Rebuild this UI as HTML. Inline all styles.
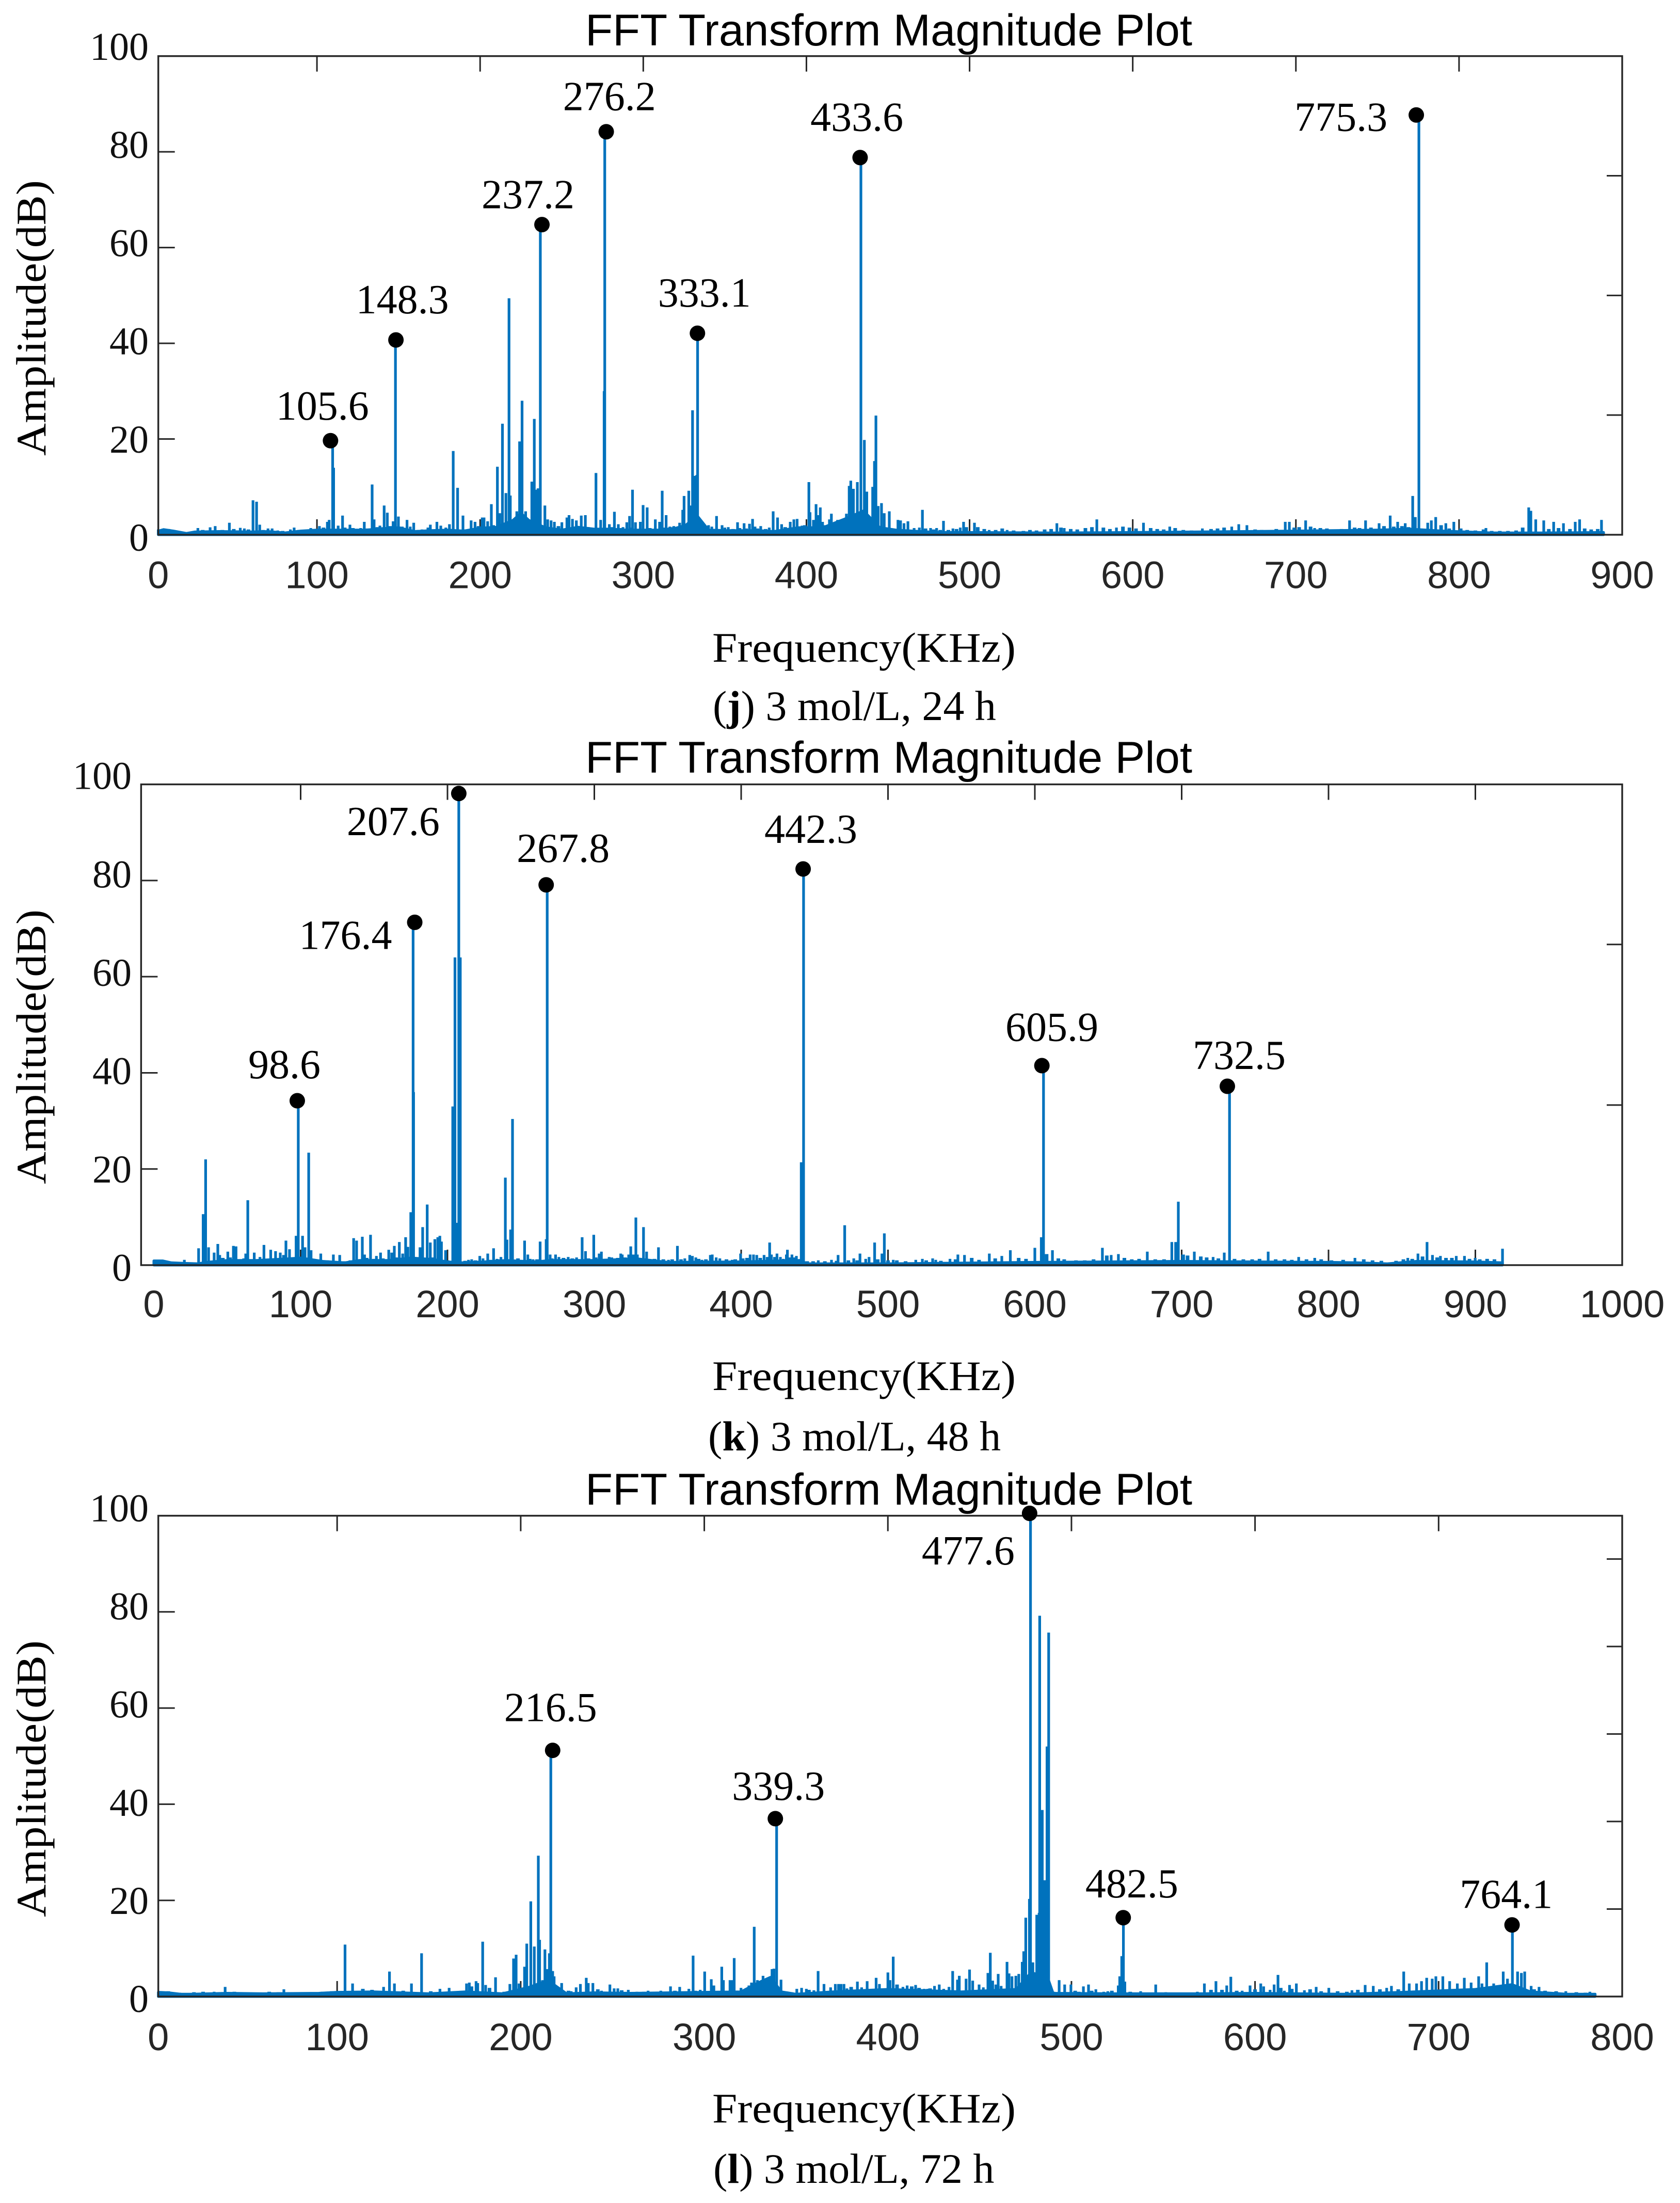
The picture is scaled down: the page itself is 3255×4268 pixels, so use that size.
<!DOCTYPE html>
<html lang="en">
<head>
<meta charset="utf-8">
<title>FFT Transform Magnitude Plots</title>
<style>
html,body{margin:0;padding:0;background:#fff;}
svg{display:block;}
.serif{font-family:"Liberation Serif",serif;fill:#000;}
.sans{font-family:"Liberation Sans",sans-serif;}
.title{font-size:86px;fill:#000;}
.axis-title{font-size:82px;}
.caption{font-size:82px;}
</style>
</head>
<body>
<svg id="figure" xmlns="http://www.w3.org/2000/svg" width="3255" height="4268" viewBox="0 0 3255 4268">
<rect x="0" y="0" width="3255" height="4268" fill="#fff"/>

<g id="panel-j"></g>
<text class="sans title" x="1722" y="88" text-anchor="middle" textLength="1176" lengthAdjust="spacingAndGlyphs">FFT Transform Magnitude Plot</text>
<text class="serif" transform="translate(88,616) rotate(-90)" text-anchor="middle" font-size="82" textLength="534" lengthAdjust="spacingAndGlyphs">Amplitude(dB)</text>
<text class="serif axis-title" x="1674" y="1282" text-anchor="middle" textLength="588" lengthAdjust="spacingAndGlyphs">Frequency(KHz)</text>
<text class="serif caption" x="1381" y="1395">(<tspan font-weight="bold">j</tspan>) 3 mol/L, 24 h</text>

<g id="panel-k"></g>
<text class="sans title" x="1722" y="1497" text-anchor="middle" textLength="1176" lengthAdjust="spacingAndGlyphs">FFT Transform Magnitude Plot</text>
<text class="serif" transform="translate(88,2028) rotate(-90)" text-anchor="middle" font-size="82" textLength="532" lengthAdjust="spacingAndGlyphs">Amplitude(dB)</text>
<text class="serif axis-title" x="1674" y="2693" text-anchor="middle" textLength="588" lengthAdjust="spacingAndGlyphs">Frequency(KHz)</text>
<text class="serif caption" x="1372" y="2810">(<tspan font-weight="bold">k</tspan>) 3 mol/L, 48 h</text>

<g id="panel-l"></g>
<text class="sans title" x="1722" y="2915" text-anchor="middle" textLength="1176" lengthAdjust="spacingAndGlyphs">FFT Transform Magnitude Plot</text>
<text class="serif" transform="translate(88,3446) rotate(-90)" text-anchor="middle" font-size="82" textLength="536" lengthAdjust="spacingAndGlyphs">Amplitude(dB)</text>
<text class="serif axis-title" x="1674" y="4112" text-anchor="middle" textLength="588" lengthAdjust="spacingAndGlyphs">Frequency(KHz)</text>
<text class="serif caption" x="1382" y="4229">(<tspan font-weight="bold">l</tspan>) 3 mol/L, 72 h</text>
</svg>

<script>
// ---------- shared tick values ----------
const yTickValues = [0, 20, 40, 60, 80, 100];
const yTickLabels = ["0", "20", "40", "60", "80", "100"];

// ---------- panel j ----------
const jXTicks = [0, 100, 200, 300, 400, 500, 600, 700, 800, 900];
const jXTickLabels = ["0", "100", "200", "300", "400", "500", "600", "700", "800", "900"];
const jRightTicks = [25, 50, 75];
const jFreq = [
27,34.5,37.6,46.3,53,55.5,60.8,63,64.9,70,72.5,76,83.7,86,93.4,96.2,101.5,106.4,107.5,109.6,
110.2,113,115.7,120.2,124,126.8,129,133.8,135,138.6,141.2,143.1,146.7,148.1,149.9,155.2,157.2,159.3,164.4,168,
169.5,173.5,175.9,179,181.2,183.5,186.2,189.5,194.5,196.9,201.3,202.4,204.6,206.9,210.6,212,213.7,215.8,217.7,218.5,
222.5,224.2,225.7,227.9,231.7,233.2,234.2,235.5,236.9,239.7,241.4,243.5,245.5,250.1,253.2,254.5,256.6,259,262,264.5,
268.2,271,273.9,276,276.4,279.2,282.3,284.7,287.6,289.9,291.6,293.4,295.2,298.2,299.9,302.4,305,307.4,310,311.6,
314,316.3,318.7,322.3,324.2,325,327.9,329.2,330.2,331.5,332.8,333.3,335.2,337.6,340,342,344.9,348.3,350,352.1,
357.8,361.8,365.1,367,368.5,372,377.2,379.6,382.3,384.8,390.1,392.3,394.3,397.3,401.5,402.2,404.3,405.9,407,408.5,
409.9,412.7,414.1,415.3,419.1,421.1,422.7,424.5,426.2,427.2,428.8,431.2,433.4,435.5,437,440.6,441.7,442.6,444,446,
447.7,450.8,456.1,457.7,459.8,462.2,466,469.2,471.1,476.1,479.8,484,489.8,494.3,496.3,503,512,523,553.5,558,
578,590,606.6,622.7,642.7,660.7,665,670,693.5,696,706,711.5,732.9,742.7,751,757.8,762.4,767,771.6,773.2,
775.4,780.8,783,785.7,791.9,796.8,816.5,842.7,844,847,851.9,858,864,871.2,873.9,887.3
];
const jAmp = [
1.4,1.55,1.8,2.5,1.45,1.3,7.2,6.9,2.1,1.3,1.3,0.9,1.1,1.5,1,1.4,1.8,2.7,3.1,19.6,
14,1.9,4,2.1,0.9,1.4,2.7,10.5,3.2,1.9,6.1,4.6,2.8,40.7,3.8,3.1,1.7,2.5,1.1,1.5,
2.1,2.7,1.9,1.5,2.2,17.5,9.8,4,3,2.7,3.6,3.6,2.8,6.4,14.2,4.5,23.2,8.7,49.4,8.2,
4.9,19.5,28,4.9,11.1,24.2,9.4,9.7,64.8,6.1,3.2,3,2.7,2.6,3.6,4.1,3.3,3,4,4.1,
1.5,12.9,3.1,30,84.2,2.2,4.8,2.2,1.6,2.6,3.9,9.4,2.6,2.7,6.2,5.7,1.1,3.2,2.7,9.2,
4.1,1.7,1.8,2.5,5.2,8.1,9.2,6.1,26,12.3,12.5,42.1,2.1,1.4,2,1.7,3.9,2,1.5,1.6,
2.6,2.4,2.3,3.3,1.7,1.8,1.5,4.9,3.6,2.2,2.7,3.2,3.3,1.9,11,4.7,3.1,6.4,4.1,5.7,
2.7,1.4,3.2,4.4,3.1,2.6,2.8,4.4,10.2,11.3,9.6,11,78.8,19.8,9,10,15.4,24.9,6,6.6,
4.5,4.9,3.1,3,2.4,2.8,1.4,1.5,5.2,1.4,1.4,2.9,1.3,1.5,2.7,2.5,1,1,2.4,1.4,
3.2,1.5,2.5,1.7,1.3,1.7,2.2,2,2.7,2.7,3,1.4,3,3,2.4,4,2.7,2.4,8.1,3.7,
87.7,2.5,3,3.7,2.4,2.7,1.4,5.7,5,3.2,3,2.7,2.4,2.7,3.2,3.1
];
const jSmallFreq = [
3,9,16,30,42,49,58,67,79,89,99,104,117,122,131,137,145,152,162,171,
177,191,199,208,248,266,270,281,286,292,304,313,320,346,355,359,363,370,375,387,
399,411,417,473,478,482,487,492,498,505,509,516,520,527,533,537,541,546,550,556,
562,566,571,575,582,586,594,598,602,611,615,619,626,631,636,648,652,656,675,679,
684,688,699,702,709,715,719,723,728,736,739,746,754,760,765,769,789,794,801,805,
810,815,820,825,830,835,839,855,861,868,877,881,885
];
const jSmallAmp = [
1.1,1.2,0.6,1,1,1.2,1.1,1,0.8,1,1.2,1.5,1.5,1.4,1.3,1.6,1.8,1.7,1,1.1,
1.2,1.1,1.8,2,1.8,1.6,1.3,1.6,1.4,1.5,1.4,1.5,1.6,1.2,1.2,1.4,1.3,1.3,1.2,1.6,
2,2,2.4,1.3,1.1,1,1,1.2,1.6,1.6,1.2,1,1.3,0.9,0.8,1,0.9,1.1,1.2,1.5,
1.2,1.1,1.4,1.6,1.5,1.2,1.7,1.5,1.3,1.4,1.2,1.1,1.4,1,0.9,1.2,1.3,1.5,1.1,1,
0.9,1.2,1.5,1.6,1.7,1.4,1.3,1.1,1.2,1.5,1.4,1.5,1.8,1.7,1.8,1.6,2,1.3,1.3,1,
0.9,1.1,0.8,0.8,0.8,0.9,1.5,1.2,1.4,1.2,1.3,1.1,1.2
];
const jFloorFreq = [0,6,12,20,25,40,60,70,80,90,100,110,120,130,140,150,160,170,180,190,200,210,220,225,230,240,250,260,270,280,290,300,310,320,326,333,340,350,370,380,395,410,425,435,445,455,480,500,550,600,700,750,770,790,820,850,888.6];
const jFloorAmp = [0.8,1.1,0.8,0.3,0.6,0.7,0.6,0.7,0.4,0.8,1,1,1,1,1.3,1.5,0.7,0.9,1,0.8,1.4,1.6,3,4.5,3,1.5,1,1.6,1.2,1.2,1,1,1,1.4,2,4,1,0.9,0.9,0.7,1.5,1.5,3.5,5,1.5,1,0.5,0.5,0.4,0.5,0.8,1,1.2,0.8,0.4,0.4,0.5];
const jPeakFreq = [108.3,148.4,237.9,277.3,333.2,432.9,773.8];
const jPeakAmp = [19.65,40.7,64.8,84.2,42.1,78.8,87.7];
const jPeakLabels = ["105.6","148.3","237.2","276.2","333.1","433.6","775.3"];

// ---------- panel k ----------
const kXTicks = [0, 100, 200, 300, 400, 500, 600, 700, 800, 900, 1000];
const kXTickLabels = ["0", "100", "200", "300", "400", "500", "600", "700", "800", "900", "1000"];
const kRightTicks = [33.3, 66.7];
const kFreq = [
20.8,30.5,33.6,35.3,37.3,41.1,43.6,44.9,50.4,52.2,54.2,56,58.5,61.2,62.6,64,68.4,72.3,75,79.6,
82.9,86.1,88.3,90,92.4,96.9,98.4,101.3,103,105.5,107.1,113.7,122.3,126.6,133.6,136.1,138.1,142,143.5,147.6,
151.6,154.4,160,162,163.8,167.2,169.5,171.5,173,175,176.6,176.9,181.3,183.1,186.2,188.3,191.4,193.4,194.8,195.9,
198.7,203.6,205.1,206.3,207.7,208.7,214.3,216.5,222,224.2,227.4,231.4,233.7,236.4,239.4,240.5,243,244.3,252.5,254.7,
258.3,263.1,267.2,267.9,269.9,273.6,275.9,282.2,287.9,291.7,294,299.6,303.3,304.8,307.1,310.1,311.9,313.5,318,319,
323.4,324.8,326.5,328.3,329.3,333.5,335.6,338.8,343.7,350.5,356.6,361.6,365,366.8,369.1,373.3,379,380.3,383,385.5,
393.9,399.6,401.4,406.1,408.4,410.6,415.6,419.4,420.6,424.4,426.7,428.7,430.8,431.5,434.6,437.6,440.9,442.5,452.5,461.5,
466,470.5,476.7,480.9,484.8,487.1,490.9,495.9,497.5,503.6,518.9,523.4,530.4,532.5,542.2,547.6,552.1,569,577.5,583.3,
600,604.4,605.9,612,646,652,656.9,676.6,693.3,695.9,697.7,708.6,721.4,729,732.6,758.9,779.7,790.6,818,854,
860.9,867.1,870.8,876.2,887,892.6,899.9,918.5
];
const kAmp = [
1.1,3.5,10.6,22,3.7,2.6,4.4,2.1,2.8,1.6,4,3.9,0.8,1.4,2.4,13.5,2.6,1.7,4.2,3.2,
2.9,2.6,2.1,5.1,3.3,6.1,34,6.1,3.7,23.4,3.1,2.4,2.2,2.1,1,5.6,5.1,5.9,2.2,6.3,
1.9,2.6,3.2,2.6,4,4.8,2.4,5.8,3.8,11,71.3,36,3.7,7.9,12.6,4.7,5.4,5.8,6.1,4.9,
3.1,33,64,8.8,98.1,64,1.1,1.2,1.9,1.4,2.4,3.5,1.3,1.7,18.2,5.3,7.4,30.4,5.1,2.2,
1.2,4.9,5.4,79.1,2.2,2.2,1.7,1.7,1.6,5.8,2.9,6.3,2.4,2.8,1.1,1.7,1.6,1.4,2.4,2.2,
2.2,3.9,2.2,9.9,2.2,7.9,2.8,1.1,3.7,1.1,4,1.4,2.1,1.9,1.6,1.1,2.1,2.2,1.6,1.4,
1.1,2.4,1.4,2.2,2.2,2.1,2.1,4.7,2.2,2.4,1.7,1.3,2.2,3.2,2.2,1.9,21.4,82.4,1,1.1,
2.1,8.3,1.4,2.4,1.3,1.7,4.7,2.4,6.6,1.1,1.1,1.3,1.4,1.1,1.3,2.2,2.1,2.4,1.9,3.1,
3.6,5.8,41.5,3.1,3.6,2.1,2.3,2.8,4.8,4.8,13.2,2.8,1.7,2.6,37.2,2.8,1.7,1.5,1.5,1.5,
2.4,4.8,2.1,1.9,1.9,1.9,1.5,3.4
];
const kSmallFreq = [
3,9,15,25,47,60,66,70,77,84,94,110,118,130,145,150,156,165,180,190,
200,212,219,229,235,248,256,261,271,279,285,296,301,316,321,341,347,353,359,371,
376,390,396,404,413,418,423,433,436,445,449,457,465,473,479,493,500,506,512,526,
536,546,557,562,573,589,594,608,616,620,628,634,640,649,661,666,671,682,688,701,
704,713,717,725,736,742,748,753,764,770,775,785,795,802,810,824,830,836,846,851,
857,864,874,880,884,896,903,908,913
];
const kSmallAmp = [
1,0.8,0.6,0.4,1.5,1.2,1.1,1.2,1.3,1.4,1.6,1.2,1,0.8,1.5,1.3,1.4,1.6,1.6,1.6,
1,0.9,1,1.1,1.2,1.4,1.3,1.2,1.4,1.5,1.4,1.4,1.6,1.5,1.6,1.3,1.2,1.2,1.2,1.3,
1.2,1.2,1.2,1.5,1.5,1.7,1.7,1.6,1.6,0.8,0.8,0.8,0.9,1,1,1.2,1,1,0.8,1,
0.9,1.2,1.5,1.1,1.4,1.5,1.3,2.3,1.4,1.2,1,1,1.2,2,1.5,1.2,1.3,1.2,1.2,2.2,
2,1.8,1.6,1.4,1.3,1.2,1.2,1.3,1.2,1.2,1.1,1.2,1.2,1,1.1,1.2,1,0.9,0.9,1.2,
1.3,1.8,1.6,1.5,1.5,1.3,1.2,1.3,1.2
];
const kFloorFreq = [0,6,12,20,30,36,50,70,90,100,115,130,140,160,175,190,200,210,225,240,260,270,300,330,350,400,440,445,500,600,650,700,750,800,820,840,860,900,918.5];
const kFloorAmp = [0.9,0.9,0.5,0.4,0.3,0.6,1,1,1.3,1.5,0.8,0.5,1,1,1.5,1.2,0.7,0.5,0.7,1,0.7,1,1,1.3,0.6,0.7,1,0.3,0.3,0.6,0.7,0.8,0.7,0.6,0.5,0.3,0.8,0.7,0.5];
const kPeakFreq = [97.7,177.7,207.7,267.2,442.2,604.8,731.1];
const kPeakAmp = [34.2,71.3,98.1,79.1,82.4,41.5,37.2];
const kPeakLabels = ["98.6","176.4","207.6","267.8","442.3","605.9","732.5"];

// ---------- panel l ----------
const lXTicks = [0, 100, 200, 300, 400, 500, 600, 700, 800];
const lXTickLabels = ["0", "100", "200", "300", "400", "500", "600", "700", "800"];
const lRightTicks = [18.2, 36.4, 54.6, 72.8, 91];
const lFreq = [
33,39,71,104.3,108.4,125.3,128.5,131.2,140.5,146,156,161,170.5,172,173.4,175.7,176.6,179.3,180.9,186.3,
194.1,196.1,197.5,199.1,202.1,203.3,205.5,207.4,209.6,210.3,211.9,213.2,214.2,215.6,216.4,217.4,218.2,222.3,227.5,230.2,
232.5,235.7,236.8,239.3,244,248.6,250.9,252.9,258.6,263.3,269.4,276.3,281.6,286.6,291.6,293.9,297.8,300.2,303.8,305.2,
309.5,310.4,314,315.3,316.3,320,324.3,325.7,327.2,328.9,332,334.3,335.8,336.9,337.9,339.4,341.8,347.5,350.4,353,
355.6,359.7,362,365.2,368.8,371.4,373.1,374.5,376.1,377.7,383.4,385.7,388.7,391.7,393.6,395.4,397.9,400,401.2,402.9,
408.2,410.5,415.1,419.8,421.6,425.4,428,430.4,433.3,435.3,437.9,438.9,442.6,444.5,446.2,449.7,452,454.5,455.8,457.1,
458.8,460.1,461.7,464.9,466,467.6,469.7,471.3,473.2,474,475.1,477.1,477.7,479,480,481.1,482.4,482.7,484.1,485.3,
486.7,487.6,490.4,493.3,496.3,499.7,506.5,509.3,513.3,517.6,519.8,525.5,526.3,527.4,528.3,529.1,537.7,545.9,551.4,568.6,
572.4,578.7,584.6,586.8,593,597.3,603.1,604.7,608.2,610.4,612.5,616,618.8,622.5,626.9,633.3,640.2,652.8,660,664.4,
671.7,674.3,681,684,688,690.7,693.5,696.5,698.5,702.3,706,710.2,714,717.7,721.8,723.6,726.2,730,735.2,737.5,
740.2,743,745.1,746.9,750.4,754.7,769.3,782.4
];
const lAmp = [
1,2,1.5,10.8,2.7,2,5.2,2.7,2.7,9,1.6,1.8,2.7,2.9,2.1,3.2,2.8,11.4,2.4,4,
2.6,7.9,8.7,2.7,6.2,11,19.8,10.4,29.3,11.8,3.4,9.8,5.7,9,51.2,5.3,4.2,2.8,1.1,1.9,
2.6,3.9,2.8,2.8,1.2,2.5,1.7,1.7,1.4,1,1.2,1.2,2.1,2,1.6,8.5,1.4,5.2,3.6,2.3,
6.2,3.4,3.4,3.4,8,1.8,2.3,2.9,14.5,3.4,4.3,2.9,3.6,5.7,5.8,37,3.5,0.9,1.6,1.8,
1.6,1.3,5.3,2.6,1.9,2.6,2.6,2.6,2.6,1.7,3.1,1.9,3.2,1.6,3.9,2.6,1.7,5,3.4,8.3,
2,2.3,2.4,1.6,1.6,2.2,2.5,1.6,2,5.3,3.5,4.3,3.7,5.6,3.3,2.5,1.9,4.9,9.1,3.3,
2.5,4.7,2.2,7.2,4.8,4.2,4.3,4.7,7.2,9.4,16.4,20.3,100.5,7.1,4.2,17,17.4,79.2,38.8,24.2,
52,75.7,1,3.4,2.5,2.5,2.1,2.5,1.5,1,1.1,2.3,4.2,8.4,16.4,3.1,1.1,2.5,0.9,1,
2.7,3.2,2.3,4.1,1.2,2.3,2.7,2.1,1.4,2.5,4.5,1.2,2.4,2.7,1.3,2,1.8,1.3,2.4,2.2,
1.8,2.2,5.2,2.7,2.7,3.2,3.9,3.7,4.2,4.2,3.2,2.7,3.9,2.9,4.2,2.7,7.1,2.7,5.2,3.7,
14.9,5.2,4.9,5.2,2.2,2,1.1,1
];
const lSmallFreq = [
8,14,22,27,44,50,56,63,68,76,84,92,97,114,119,136,151,164,183,191,
226,242,255,267,272,279,284,295,344,357,380,405,413,417,423,502,504,511,522,532,
540,555,561,566,576,582,590,600,614,620,630,636,645,650,656,668,678,752,758,764,
775,780
];
const lSmallAmp = [
1.1,0.8,0.9,1,1,0.9,0.8,1,0.9,0.8,0.9,1,1.1,1.6,1.4,1.2,1.1,1.1,1.8,1,
1.2,1.5,1.3,1,1,1,1.2,1.2,0.9,1.4,2,2.5,2.1,1.8,1.7,1.2,1,1.2,1.2,1,
0.8,0.7,0.7,0.8,1.4,1.4,1.2,1.5,1.8,1.6,1.5,1.1,1.1,1,1.4,1.5,1.5,1.5,1.2,1.1,
0.9,0.8
];
const lFloorFreq = [0,8,15,20,40,60,90,100,120,150,170,190,205,212,218,225,240,260,300,320,330,336,342,350,370,400,440,470,478,487,490,525,535,560,570,600,650,680,720,740,750,770,785.3];
const lFloorAmp = [0.9,0.8,0.5,0.5,0.7,0.6,0.7,0.9,1,0.6,1,0.6,2,3,2.5,0.6,0.8,0.7,0.9,1,3,4,1,0.5,1,1.5,1,1.5,5,4,0.7,0.6,0.6,0.6,0.6,0.7,0.5,0.9,1.5,2.5,1,0.5,0.5];
const lPeakFreq = [217.4,338.7,477.2,528.2,740];
const lPeakAmp = [51.2,37,100.5,16.4,14.9];
const lPeakLabels = ["216.5","339.3","477.6","482.5","764.1"];

// ---------- rendering ----------
const SVG_NS = "http://www.w3.org/2000/svg";
const BLUE = "#0072BD";
const FRAME = "#262626";

function make(parent, tag, attrs, text) {
  const el = document.createElementNS(SVG_NS, tag);
  for (const k in attrs) el.setAttribute(k, attrs[k]);
  if (text !== undefined) el.textContent = text;
  parent.appendChild(el);
  return el;
}

function drawPanel(cfg) {
  const g = document.getElementById("panel-" + cfg.id);
  const x = f => Math.max(cfg.left, cfg.x0 + f * (cfg.right - cfg.x0) / cfg.xMax);
  const y = a => cfg.bottom - a * (cfg.bottom - cfg.top) / 100;
  const labelY = v => cfg.yLabel0 - v * (cfg.yLabel0 - cfg.yLabel100) / 100;

  // inward ticks
  cfg.xTicks.forEach(v => {
    if (v === 0 || v === cfg.xMax) return;
    const tickTop = make(g, "line", {x1:x(v), x2:x(v), y1:cfg.top, y2:cfg.top + 30, stroke:FRAME, "stroke-width":3});
    
    
    const tickBottom = make(g, "line", {x1:x(v), x2:x(v), y1:cfg.bottom, y2:cfg.bottom - 30, stroke:FRAME, "stroke-width":3});
    
    
  });
  yTickValues.forEach(v => {
    if (v === 0 || v === 100) return;
    const tickLeft = make(g, "line", {x1:cfg.left, x2:cfg.left + 32, y1:y(v), y2:y(v), stroke:FRAME, "stroke-width":3});
    
    
  });
  cfg.rightTicks.forEach(v => {
    const tickRight = make(g, "line", {x1:cfg.right, x2:cfg.right - 30, y1:y(v), y2:y(v), stroke:FRAME, "stroke-width":3});
    
    
  });

  // noise floor
  let floorD = "M" + x(cfg.floorFreq[0]) + " " + cfg.bottom;
  cfg.floorFreq.forEach((f, i) => { floorD += "L" + x(f).toFixed(1) + " " + y(cfg.floorAmp[i]).toFixed(1); });
  floorD += "L" + x(cfg.floorFreq[cfg.floorFreq.length - 1]).toFixed(1) + " " + cfg.bottom + "Z";
  const floorPath = make(g, "path", {d:floorD, fill:BLUE, stroke:BLUE, "stroke-width":5, "stroke-linejoin":"round"});
  
  

  // minor noise spikes
  let smallD = "";
  cfg.smallFreq.forEach((f, i) => { smallD += "M" + x(f).toFixed(1) + " " + cfg.bottom + "V" + y(cfg.smallAmp[i]).toFixed(1); });
  const minorSpikes = make(g, "path", {d:smallD, fill:"none", stroke:BLUE, "stroke-width":7});
  
  

  // spectrum spikes
  let d = "";
  cfg.freq.forEach((f, i) => { d += "M" + x(f).toFixed(1) + " " + cfg.bottom + "V" + y(cfg.amp[i]).toFixed(1); });
  const spectrum = make(g, "path", {d:d, fill:"none", stroke:BLUE, "stroke-width":5.2});
  
  

  // axes frame
  const frame = make(g, "rect", {x:cfg.left, y:cfg.top, width:cfg.right - cfg.left, height:cfg.bottom - cfg.top, fill:"none", stroke:FRAME, "stroke-width":3.4});
  
  

  // tick labels
  cfg.xTicks.forEach((v, i) => {
    const xLabel = make(g, "text", {x:x(v), y:cfg.xLabelY, "text-anchor":"middle", "font-size":74, fill:FRAME, "font-family":'"Liberation Sans",sans-serif'}, cfg.xTickLabels[i]);
    
    
  });
  yTickValues.forEach((v, i) => {
    const yLabel = make(g, "text", {x:cfg.yLabelRight, y:labelY(v), "text-anchor":"end", "font-size":76, fill:"#111", "font-family":'"Liberation Serif",serif'}, yTickLabels[i]);
    
    
  });

  // peak markers and labels
  cfg.peakFreq.forEach((f, i) => {
    const mx = x(f), my = y(cfg.peakAmp[i]);
    const dot = make(g, "ellipse", {cx:mx, cy:my, rx:15, ry:15, fill:"#000"});
    
    
    const off = cfg.labelOffsets[i];
    const lab = make(g, "text", {x:mx + off[0], y:my + off[1], "text-anchor":"middle", "font-size":80, fill:"#000", "font-family":'"Liberation Serif",serif'}, cfg.peakLabels[i]);
    
    
  });
}

drawPanel({
  id:"j", left:306.7, right:3143, x0:298, xMax:900, top:108.7, bottom:1036,
  xLabelY:1139.5, yLabelRight:288, yLabel0:1067, yLabel100:116,
  xTicks:jXTicks, xTickLabels:jXTickLabels, rightTicks:jRightTicks,
  freq:jFreq, amp:jAmp, smallFreq:jSmallFreq, smallAmp:jSmallAmp, floorFreq:jFloorFreq, floorAmp:jFloorAmp,
  peakFreq:jPeakFreq, peakAmp:jPeakAmp, peakLabels:jPeakLabels,
  labelOffsets:[[-15.6,-40.8],[12.5,-51.6],[-27,-31.7],[6.2,-41.7],[13.5,-51.6],[-6.3,-51.6],[-146,30.8]]
});
drawPanel({
  id:"k", left:273.4, right:3143, x0:298, xMax:1000, top:1519.6, bottom:2451,
  xLabelY:2552, yLabelRight:255, yLabel0:2481.6, yLabel100:1528.7,
  xTicks:kXTicks, xTickLabels:kXTickLabels, rightTicks:kRightTicks,
  freq:kFreq, amp:kAmp, smallFreq:kSmallFreq, smallAmp:kSmallAmp, floorFreq:kFloorFreq, floorAmp:kFloorAmp,
  peakFreq:kPeakFreq, peakAmp:kPeakAmp, peakLabels:kPeakLabels,
  labelOffsets:[[-25,-43.5],[-134,51.6],[-127,80.6],[33,-44.4],[15,-50.7],[19.4,-48],[23,-33.5]]
});
drawPanel({
  id:"l", left:306.7, right:3143, x0:297.5, xMax:800, top:2936.5, bottom:3868,
  xLabelY:3972, yLabelRight:288, yLabel0:3898, yLabel100:2947.5,
  xTicks:lXTicks, xTickLabels:lXTickLabels, rightTicks:lRightTicks,
  freq:lFreq, amp:lAmp, smallFreq:lSmallFreq, smallAmp:lSmallAmp, floorFreq:lFloorFreq, floorAmp:lFloorAmp,
  peakFreq:lPeakFreq, peakAmp:lPeakAmp, peakLabels:lPeakLabels,
  labelOffsets:[[-4,-56.5],[6,-36.4],[-119,99.3],[16.6,-39.2],[-11.4,-32.8]]
});
</script>
</body>
</html>
